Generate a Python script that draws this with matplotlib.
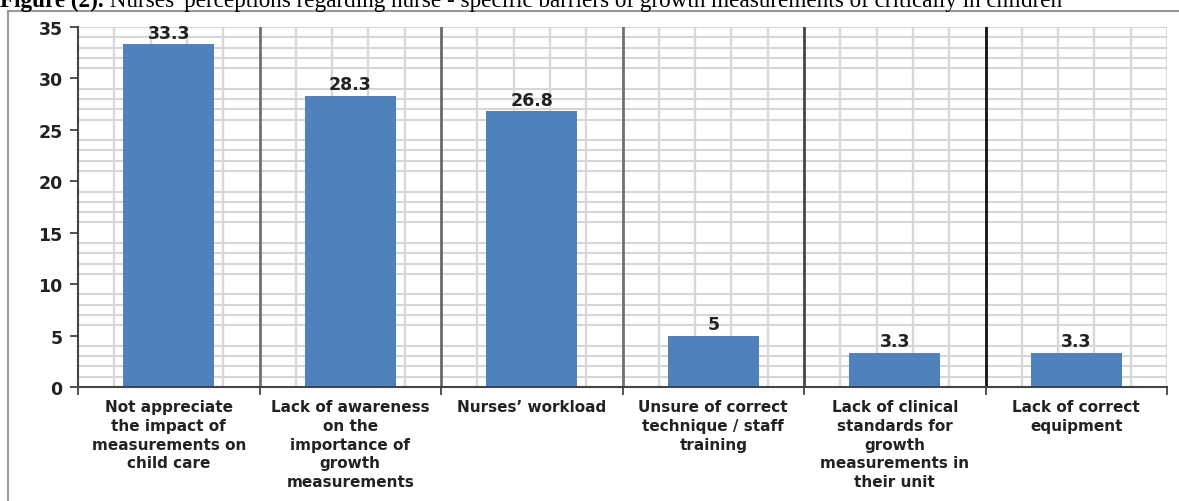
import matplotlib
matplotlib.use("Agg")
import matplotlib.pyplot as plt
from matplotlib.lines import Line2D

categories = [
    "Not appreciate\nthe impact of\nmeasurements on\nchild care",
    "Lack of awareness\non the\nimportance of\ngrowth\nmeasurements",
    "Nurses\u2019 workload",
    "Unsure of correct\ntechnique / staff\ntraining",
    "Lack of clinical\nstandards for\ngrowth\nmeasurements in\ntheir unit",
    "Lack of correct\nequipment",
]
values = [33.3, 28.3, 26.8, 5, 3.3, 3.3]
value_labels = ["33.3", "28.3", "26.8", "5", "3.3", "3.3"]
yticks = [0, 5, 10, 15, 20, 25, 30, 35]
title_bold = "Figure (2)."
title_rest = " Nurses' perceptions regarding nurse - specific barriers of growth measurements of critically in children"

W, H = 1179, 502
fig = plt.figure(figsize=(W / 100, H / 100), dpi=100)
ax = fig.add_axes([78 / W, 1 - 388 / H, (1167 - 78) / W, (388 - 28) / H])

n = len(categories)
xs = list(range(n))
ax.set_xlim(-0.5, n - 0.5)
ax.set_ylim(0, 35)

# grid: minor horizontal every 1 unit (Excel-like, major lines absent)
for v in range(1, 36):
    if v % 5 != 0 or v == 35:
        ax.axhline(v, color="#d6d6d6", lw=1.5, zorder=0)
# vertical minor lines at fifths of each category
for i in range(n):
    for k in range(1, 5):
        ax.axvline(i - 0.5 + k / 5, color="#d8d8d8", lw=1.7, zorder=0)
ax.axvline(n - 0.5, color="#cfcfcf", lw=1.8, zorder=0)
major_colors = ["#707070", "#6a6a6a", "#707070", "#454545", "#111111"]
for i, c in enumerate(major_colors):
    ax.axvline(i + 0.5, color=c, lw=2.0, zorder=0.5)

ax.bar(xs, values, width=0.5, color="#4f81bd", zorder=2)

for x, v, lab in zip(xs, values, value_labels):
    ax.text(x, v + 0.25, lab, ha="center", va="bottom", fontsize=12.5,
            fontweight="bold", family="DejaVu Sans", color="#222222", zorder=3)

for s in ["top", "right"]:
    ax.spines[s].set_visible(False)
for s in ["left", "bottom"]:
    ax.spines[s].set_color("#444444")
    ax.spines[s].set_linewidth(1.5)
    ax.spines[s].set_zorder(3)

ax.set_yticks(yticks)
ax.set_yticklabels([str(t) for t in yticks], fontsize=12.5, fontweight="bold",
                   family="DejaVu Sans", color="#222222")
ax.tick_params(axis="y", length=6, width=1.3, color="#444444", pad=5)

bounds = [i - 0.5 for i in range(n + 1)]
ax.set_xticks(bounds)
ax.set_xticklabels([""] * len(bounds))
ax.tick_params(axis="x", which="major", length=6, width=1.3, color="#444444")
ax.set_xticks(xs, minor=True)
ax.set_xticklabels(categories, minor=True, fontsize=11, fontweight="bold",
                   family="DejaVu Sans", color="#222222", linespacing=1.3)
ax.tick_params(axis="x", which="minor", length=0, pad=9)

# outer frame lines (figure decoration)
fig.add_artist(Line2D([8 / W, 1.0], [1 - 12 / H, 1 - 12 / H], transform=fig.transFigure,
                      color="#9a9a9a", lw=1.5))
fig.add_artist(Line2D([8 / W, 8 / W], [1 - 12 / H, 0], transform=fig.transFigure,
                      color="#9a9a9a", lw=1.5))

# title, partly cut off at the top as in the reference
t1 = fig.text(0.0, 1 - 7 / H, title_bold, family="Liberation Serif", fontweight="bold",
              fontsize=16.7, va="baseline", ha="left")
fig.canvas.draw()
bb = t1.get_window_extent(fig.canvas.get_renderer())
fig.text(bb.x1 / W, 1 - 7 / H, title_rest, family="Liberation Serif",
         fontsize=16.7, va="baseline", ha="left")

fig.savefig("out.png", dpi=100)
